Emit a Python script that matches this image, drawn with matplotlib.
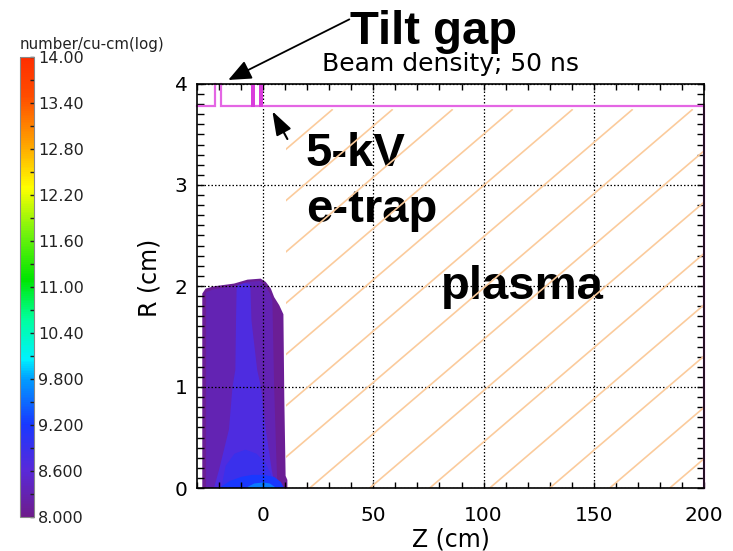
import numpy as np
import matplotlib
matplotlib.use("Agg")
import matplotlib.pyplot as plt
from matplotlib.colors import LinearSegmentedColormap, Normalize
from matplotlib.cm import ScalarMappable
from matplotlib.patches import Rectangle
from matplotlib.collections import LineCollection
from matplotlib.ticker import FixedLocator

# ---- colour scale: log10 of beam density (number / cm^3) ----
cbar_min, cbar_max = 8.0, 14.0
cbar_ticks = [8.0, 8.6, 9.2, 9.8, 10.4, 11.0, 11.6, 12.2, 12.8, 13.4, 14.0]
cbar_ticklabels = ["8.000", "8.600", "9.200", "9.800", "10.40", "11.00",
                   "11.60", "12.20", "12.80", "13.40", "14.00"]
cbar_minor = [8.3, 8.9, 9.5, 10.1, 10.7, 11.3, 11.9, 12.5, 13.1, 13.7]

# ---- beam density bands (log10 density, outline in z [cm] / r [cm]) ----
outer_level = 8.08
outer_z = [-27.6, -27.6, -26.1, -22.3, -13.2, -7.1, -1.1, 1.2, 3.5, 5.0, 7.3,
           9.2, 9.6, 10.2, 11.0, 11.0]
outer_r = [0.0, 1.925, 1.974, 1.997, 2.024, 2.063, 2.073, 2.04, 1.974, 1.89,
           1.81, 1.72, 0.9, 0.12, 0.08, 0.0]

middle_level = 8.32
middle_z = [-25.9, -25.9, -22.0, -13.2, -7.1, -1.5, 1.0, 3.0, 4.2, 5.0, 6.0, 6.5]
middle_r = [0.0, 1.94, 1.97, 2.0, 2.04, 2.05, 2.0, 1.93, 1.85, 1.0, 0.3, 0.0]

core_level = 8.72
core_z = [-22.3, -20.0, -15.5, -13.9, -12.6, -12.3, -12.0, -8.5, -5.8, -5.3,
          -2.7, -1.0, 1.2, 3.9, 5.5]
core_r = [0.0, 0.18, 0.58, 1.0, 1.17, 1.66, 2.0, 2.03, 2.02, 1.66, 1.17, 1.0,
          0.58, 0.18, 0.0]

lower_core_level = 8.9
lower_core_z = [-19.0, -17.0, -13.0, -8.0, -3.0, 1.0, 3.5, 5.0]
lower_core_r = [0.0, 0.22, 0.34, 0.38, 0.34, 0.25, 0.14, 0.0]

axis_level = 9.2
axis_z = [-20.0, -15.0, -10.0, -5.0, 0.0, 5.0, 8.0, 9.5]
axis_r = [0.0, 0.07, 0.11, 0.13, 0.13, 0.11, 0.06, 0.0]

peak_level = 9.6
peak_z = [-8.0, -4.0, 0.0, 3.0, 6.0]
peak_r = [0.0, 0.045, 0.055, 0.045, 0.0]

# ---- geometry: drift-tube wall, tilt-gap electrodes, plasma column ----
wall_left_z = [-30.0, -21.8, -21.8]
wall_left_r = [3.78, 3.78, 4.0]
wall_main_z = [-19.2, -19.2, 200.0, 200.0]
wall_main_r = [4.0, 3.78, 3.78, 0.0]
electrode_z_start = [-5.6, -1.8]
electrode_z_end = [-3.8, 0.0]
electrode_r_inner = 3.77
electrode_r_outer = 4.0

plasma_z = [10.6, 200.0]
plasma_r = [0.0, 3.75]

# ---- colormap (IDL-style rainbow starting at purple) ----
cmap_stops = [
    (8.0, (0.43, 0.11, 0.55)),
    (8.6, (0.35, 0.16, 0.85)),
    (9.2, (0.10, 0.22, 1.00)),
    (9.8, (0.00, 0.62, 1.00)),
    (10.05, (0.00, 0.95, 1.00)),
    (10.6, (0.00, 1.00, 0.60)),
    (11.1, (0.00, 0.90, 0.00)),
    (11.7, (0.45, 0.95, 0.05)),
    (12.3, (1.00, 1.00, 0.00)),
    (12.9, (1.00, 0.62, 0.00)),
    (13.5, (1.00, 0.30, 0.00)),
    (14.0, (1.00, 0.18, 0.00)),
]
cmap = LinearSegmentedColormap.from_list(
    "beam_rainbow",
    [((v - cbar_min) / (cbar_max - cbar_min), c) for v, c in cmap_stops])
norm = Normalize(cbar_min, cbar_max)

fig = plt.figure(figsize=(7.33, 5.51), dpi=100)
W, H = 733.0, 551.0
ax = fig.add_axes([197 / W, 63 / H, 507 / W, 404 / H])
ax.set_xlim(-30, 200)
ax.set_ylim(0, 4)

# beam density bands
for level, zs, rs in [(outer_level, outer_z, outer_r),
                      (middle_level, middle_z, middle_r),
                      (core_level, core_z, core_r),
                      (lower_core_level, lower_core_z, lower_core_r),
                      (axis_level, axis_z, axis_r),
                      (peak_level, peak_z, peak_r)]:
    ax.fill(zs, rs, color=cmap(norm(level)), lw=0, zorder=1)

# labels
bold = dict(family="Liberation Sans", weight="bold", size=34, color="black")
ax.text(19.3, 3.19, "5-kV", ha="left", va="baseline", zorder=3, **bold)
ax.text(19.3, 2.63, "e-trap", ha="left", va="baseline", zorder=3, **bold)
ax.text(80.5, 1.876, "plasma", ha="left", va="baseline", zorder=3, **bold)
ax.text(39.5, 4.393, "Tilt gap", ha="left", va="baseline", clip_on=False,
        zorder=6, **bold)

# plasma column drawn as diagonal line fill
fig.canvas.draw()
p0 = ax.transData.transform((0.0, 0.0))
p1 = ax.transData.transform((1.0, 1.0))
px_per_z, px_per_r = p1[0] - p0[0], p1[1] - p0[1]
slope = 0.855 * px_per_z / px_per_r          # dr/dz of the fill lines
spacing = 60.0 / px_per_z                     # horizontal spacing in cm
rise = plasma_r[1] - plasma_r[0]
z_anchor = 58.8 - rise / slope
starts = np.arange(z_anchor - 10 * spacing, plasma_z[1] + spacing, spacing)
segs = [[(z0, plasma_r[0]), (z0 + rise / slope, plasma_r[1])] for z0 in starts]
clip_rect = Rectangle((plasma_z[0], plasma_r[0]), plasma_z[1] - plasma_z[0],
                      rise, transform=ax.transData)
lc = LineCollection(segs, colors="#fbcb9c", linewidths=1.2, zorder=3.5)
ax.add_collection(lc)
lc.set_clip_path(clip_rect)

# wall and electrodes
wall_color = "#e466e4"
ax.plot(wall_left_z, wall_left_r, color=wall_color, lw=1.6, zorder=5,
        clip_on=False, solid_joinstyle="miter")
ax.plot(wall_main_z, wall_main_r, color=wall_color, lw=1.6, zorder=5,
        clip_on=False, solid_joinstyle="miter")
for z0, z1 in zip(electrode_z_start, electrode_z_end):
    ax.fill_between([z0, z1], electrode_r_inner, electrode_r_outer,
                    color="#d93cdc", lw=0, zorder=5)

# grid and ticks
ax.set_xticks([0, 50, 100, 150, 200])
ax.set_xticks(np.arange(-30, 201, 10), minor=True)
ax.set_yticks([0, 1, 2, 3, 4])
ax.set_yticks(np.arange(0, 4.01, 0.1), minor=True)
ax.grid(True, which="major", color="black", linestyle=(0, (1.2, 1.6)),
        linewidth=0.9)
ax.set_axisbelow(False)
ax.tick_params(axis="x", which="both", direction="in", top=True, length=4,
               width=1.0, labelsize=14.5, pad=13.3)
ax.tick_params(axis="y", which="both", direction="in", right=True, length=5.3,
               width=1.0, labelsize=14.5, pad=6.8)
for sp in ax.spines.values():
    sp.set_linewidth(1.2)
    sp.set_zorder(6)

ax.set_xlabel("Z (cm)", fontsize=17, va="center")
ax.xaxis.set_label_coords(0.5, (488 - 540) / 404)
ax.set_ylabel("R (cm)", fontsize=17, va="center", ha="center")
ax.yaxis.set_label_coords((149 - 197) / 507, 0.52)

fig.text(450.5 / W, 1 - 64 / H, "Beam density; 50 ns", ha="center",
         va="center", fontsize=18)

# arrows
ax.annotate("", xy=(-15.8, 4.04), xytext=(39.1, 4.64), annotation_clip=False,
            arrowprops=dict(arrowstyle="-|>,head_length=1.4,head_width=0.6",
                            color="black", lw=1.3, shrinkA=0, shrinkB=0,
                            mutation_scale=10), zorder=6)
ax.annotate("", xy=(4.2, 3.73), xytext=(11.0, 3.455), annotation_clip=False,
            arrowprops=dict(arrowstyle="-|>,head_length=1.45,head_width=0.5",
                            color="black", lw=1.5, shrinkA=0, shrinkB=0,
                            mutation_scale=10), zorder=6)

# colour bar
cax = fig.add_axes([20 / W, (H - 517) / H, 14 / W, 460 / H])
cb = fig.colorbar(ScalarMappable(norm=norm, cmap=cmap), cax=cax,
                  ticks=cbar_ticks)
cb.set_ticklabels(cbar_ticklabels)
cax.yaxis.set_minor_locator(FixedLocator(cbar_minor))
cax.tick_params(which="both", direction="in", length=3, width=1.0,
                labelsize=11.5, pad=3, colors="#222222")
cb.outline.set_edgecolor("#888888")
cb.outline.set_linewidth(0.8)
fig.text(20 / W, 1 - 44 / H, "number/cu-cm(log)", ha="left", va="center",
         fontsize=10.8, color="#222222")

fig.savefig("out.png", dpi=100)
